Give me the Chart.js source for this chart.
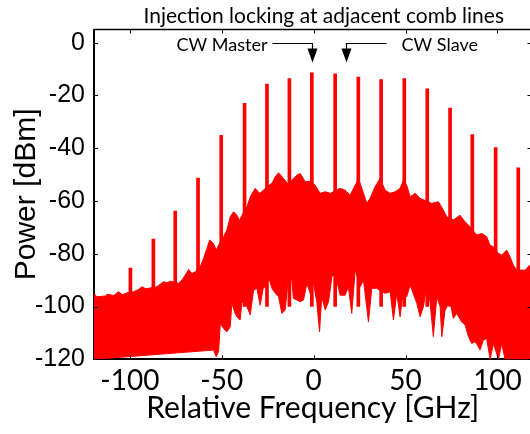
<!DOCTYPE html>
<html>
<head>
<meta charset="utf-8">
<script src="https://cdn.jsdelivr.net/npm/chart.js@4.4.1/dist/chart.umd.min.js"></script>
<style>
  html, body { margin: 0; padding: 0; overflow: hidden; background: #fff; }
  #wrap { width: 536px; height: 434px; }
</style>
</head>
<body>
<div id="wrap"><canvas id="spectrum"></canvas></div>
<script>
// 스펙트럼 상단 포락선 (GHz, dBm)
const freqUpper = [-119.5,-118,-113,-112.4,-108.8,-106.1,-104,-101.6,-97.9,-95.2,-93.4,-91.5,-89.8,-85.3,-83.4,-81.6,-79.8,-78,-73.5,-71.7,-69.9,-68,-66.2,-64.4,-61.7,-59.9,-58.1,-56.6,-54.5,-53,-51.7,-49,-47.2,-45.4,-43.6,-41.8,-40.3,-39,-36.3,-34.5,-31.8,-29.4,-27.3,-25.5,-22.7,-20.9,-19.1,-16.4,-14.2,-11.9,-9.2,-7.3,-4.6,-1.9,0.8,3.5,6.3,9,14.4,17.1,19.8,22.6,24.4,27.1,28.9,30.7,33.4,36.1,38.9,41.6,44.3,47,48.8,50.6,52.5,55.2,57.9,64.2,67.9,70.6,72.4,76,79.6,82.4,85.1,88.7,91.4,94.1,95.9,97.8,100.5,102.3,105,106.8,108.6,110.4,112.3,115,117.7,118.5];
const powerUpper = [-95,-96.3,-96,-95.3,-95.8,-94.4,-95.5,-94.8,-94.4,-93.5,-92.5,-93.2,-93.1,-92.5,-91.5,-90.6,-91,-90.4,-91.2,-90,-88.1,-86,-87.5,-86.8,-84.9,-81.8,-78,-74.8,-76.1,-78.6,-76.7,-73.5,-71,-66,-64.1,-65.4,-67.3,-65.4,-62.2,-58.4,-55.2,-57.1,-55.9,-54.6,-53.3,-50.8,-49.3,-51.5,-53.3,-52.1,-50.2,-49.6,-52.7,-52.5,-54,-57.1,-56.5,-57.1,-55.2,-55.9,-57.8,-54,-51.5,-57.1,-60.9,-59,-54.6,-51.5,-55.9,-57.1,-56.5,-55.2,-52.1,-54,-58.4,-57.1,-59,-60.9,-60.3,-63.5,-66,-67.2,-65.4,-67.9,-69.8,-72.9,-72.3,-73.5,-76.7,-77.4,-79.9,-80.5,-78.6,-81.1,-84.3,-86.2,-86.2,-86.2,-84.3,-85];

// 스펙트럼 하단 포락선
const freqLower = [-119.5,-54.5,-53,-51.7,-50.8,-49,-47.2,-45.4,-44.5,-42.7,-41.8,-40,-39.1,-37.2,-36.3,-34.5,-32.7,-30.9,-29.1,-27.3,-25.5,-24.6,-22.7,-20.9,-19.1,-17.3,-15.5,-13.7,-11.9,-11,-9.2,-7.3,-5.5,-3.7,-1.9,-0.1,1.7,3.2,4.4,6.3,8.1,9.9,11.7,14.4,17.1,18.9,20.7,22.6,25.3,27.1,29.8,31.6,34.3,37.1,38.9,41.6,43.4,45.2,47,48.8,50.6,52.5,56.1,57.9,59.7,61.5,63.3,65.1,67,68.8,69.7,71.5,74.2,76,77.8,80.5,82.4,84.2,86,87.8,89.6,90.5,92.3,94.1,96,97.8,100.5,102.3,104.1,118.5];
const powerLower = [-120,-116.5,-119,-117,-106.4,-108.3,-109.6,-107.7,-98.8,-102.6,-103.9,-105.1,-98.8,-96.3,-100.1,-103.2,-93.8,-93.1,-99.5,-92.5,-93.1,-88.7,-93.1,-95,-96.3,-102.6,-101.3,-88.7,-90,-96.9,-97.5,-98.2,-97.5,-91.2,-95,-91.2,-98.2,-109.6,-96.3,-101.3,-98.2,-88.7,-87.5,-95.7,-95.7,-92.5,-102.6,-86.2,-92.5,-90,-105.8,-93.1,-93.1,-94.4,-95,-94.4,-105.1,-95,-103.9,-93.8,-96.3,-91.9,-98.8,-103.9,-100.1,-91.9,-98.2,-111.4,-96.3,-100.1,-111.4,-101.3,-98.2,-104.5,-102.6,-105.8,-107,-111.4,-114,-113.3,-115.2,-116.5,-112.7,-112.1,-120,-114,-120,-114,-120,-120];

// 콤 라인 (주파수, 피크 파워)
const combFreq = [-99.7,-87.2,-75.3,-62.9,-50.3,-37.6,-25.4,-13.2,-1.0,11.7,24.3,36.7,49.3,61.8,74.2,86.3,99.0,111.3];
const combPeak = [-85.4,-74.4,-63.8,-51.3,-35.1,-23.0,-15.7,-13.6,-11.4,-11.8,-13.0,-14.0,-13.6,-17.5,-24.8,-34.8,-39.8,-47.4];
const combFloor = -100;

// 눈금
const xTicks = [-100, -50, 0, 50, 100];
const yTicks = [-120, -100, -80, -60, -40, -20, 0];

// 화살표 위치 (GHz)
const masterFreq = -0.8;
const slaveFreq = 17.7;

const RED = '#ff0000';

// 제목, 테두리, 안쪽 눈금, 화살표 그리기
const decorations = {
  id: 'decorations',
  afterDatasetsDraw(chart) {
    const { ctx, chartArea: a, scales: { x, y } } = chart;
    ctx.save();
    ctx.strokeStyle = '#000';
    ctx.fillStyle = '#000';

    // 위/오른쪽 테두리
    ctx.lineWidth = 1.5;
    ctx.beginPath();
    ctx.moveTo(a.left, a.top);
    ctx.lineTo(a.right, a.top);
    ctx.lineTo(a.right, a.bottom);
    ctx.stroke();

    // 안쪽 눈금
    ctx.lineWidth = 1;
    ctx.beginPath();
    xTicks.forEach(v => {
      const px = Math.round(x.getPixelForValue(v)) + 0.5;
      ctx.moveTo(px, a.bottom); ctx.lineTo(px, a.bottom - 4);
      ctx.moveTo(px, a.top); ctx.lineTo(px, a.top + 4);
    });
    yTicks.forEach(v => {
      const py = Math.round(y.getPixelForValue(v)) + 0.5;
      ctx.moveTo(a.left, py); ctx.lineTo(a.left + 4, py);
      ctx.moveTo(a.right, py); ctx.lineTo(a.right - 4, py);
    });
    ctx.stroke();

    // 제목
    ctx.font = '21px Lato';
    ctx.textAlign = 'center';
    ctx.textBaseline = 'alphabetic';
    ctx.fillText('Injection locking at adjacent comb lines', (a.left + a.right) / 2 + 11, 23);

    // CW Master / CW Slave 화살표
    const yl = Math.round(y.getPixelForValue(0)) + 0.5;
    const arrow = (ax, dir, label) => {
      ctx.lineWidth = 1.2;
      ctx.beginPath();
      ctx.moveTo(ax + dir * 40, yl);
      ctx.lineTo(ax, yl);
      ctx.lineTo(ax, yl + 6);
      ctx.stroke();
      ctx.beginPath();
      ctx.moveTo(ax - 5, yl + 5);
      ctx.lineTo(ax + 5, yl + 5);
      ctx.lineTo(ax, yl + 19);
      ctx.closePath();
      ctx.fill();
      ctx.font = '18px Lato';
      ctx.textAlign = dir < 0 ? 'right' : 'left';
      ctx.fillText(label, ax + dir * (dir < 0 ? 45 : 55), yl + 7);
    };
    arrow(Math.round(x.getPixelForValue(masterFreq)) + 0.5, -1, 'CW Master');
    arrow(Math.round(x.getPixelForValue(slaveFreq)) + 0.5, 1, 'CW Slave');
    ctx.restore();
  }
};

const ctx = document.getElementById('spectrum').getContext('2d');

new Chart(ctx, {
  type: 'line',
  data: {
    datasets: [
      {
        label: 'upper',
        data: freqUpper.map((f, i) => ({ x: f, y: powerUpper[i] })),
        borderColor: RED,
        backgroundColor: RED,
        borderWidth: 1,
        pointRadius: 0,
        tension: 0,
        fill: '+1'
      },
      {
        label: 'lower',
        data: freqLower.map((f, i) => ({ x: f, y: powerLower[i] })),
        borderColor: RED,
        borderWidth: 1,
        pointRadius: 0,
        tension: 0,
        fill: false
      },
      {
        type: 'bar',
        label: 'comb',
        data: combFreq.map((f, i) => ({ x: f, y: [combFloor, combPeak[i]] })),
        backgroundColor: RED,
        barThickness: 3,
        grouped: false
      }
    ]
  },
  options: {
    animation: false,
    responsive: true,
    maintainAspectRatio: false,
    layout: { padding: { top: 29.5, right: 4.5, left: 0, bottom: 0 } },
    plugins: {
      legend: { display: false },
      tooltip: { enabled: false }
    },
    scales: {
      x: {
        type: 'linear',
        min: -119.5,
        max: 118.5,
        offset: false,
        grid: { display: false, drawTicks: false },
        border: { display: true, color: '#000', width: 2 },
        afterBuildTicks: s => { s.ticks = xTicks.map(v => ({ value: v })); },
        afterFit: s => { s.height = 74.7; },
        ticks: {
          color: '#000',
          font: { family: 'Lato', size: 28 },
          padding: 5,
          maxRotation: 0,
          autoSkip: false
        },
        title: {
          display: true,
          text: 'Relative Frequency [GHz]',
          color: '#000',
          font: { family: 'Lato', size: 30 },
          padding: { top: 0, bottom: 8 }
        }
      },
      y: {
        min: -120,
        max: 5,
        grid: { display: false, drawTicks: false },
        border: { display: true, color: '#000', width: 2 },
        afterBuildTicks: s => { s.ticks = yTicks.map(v => ({ value: v })); },
        afterFit: s => { s.width = 94; },
        ticks: {
          color: '#000',
          font: { family: 'Liberation Sans', size: 25 },
          padding: 9
        },
        title: {
          display: true,
          text: 'Power [dBm]',
          color: '#000',
          font: { family: 'Liberation Sans', size: 30 },
          padding: { top: 9, bottom: 0 }
        }
      }
    }
  },
  plugins: [decorations]
});
</script>
</body>
</html>
